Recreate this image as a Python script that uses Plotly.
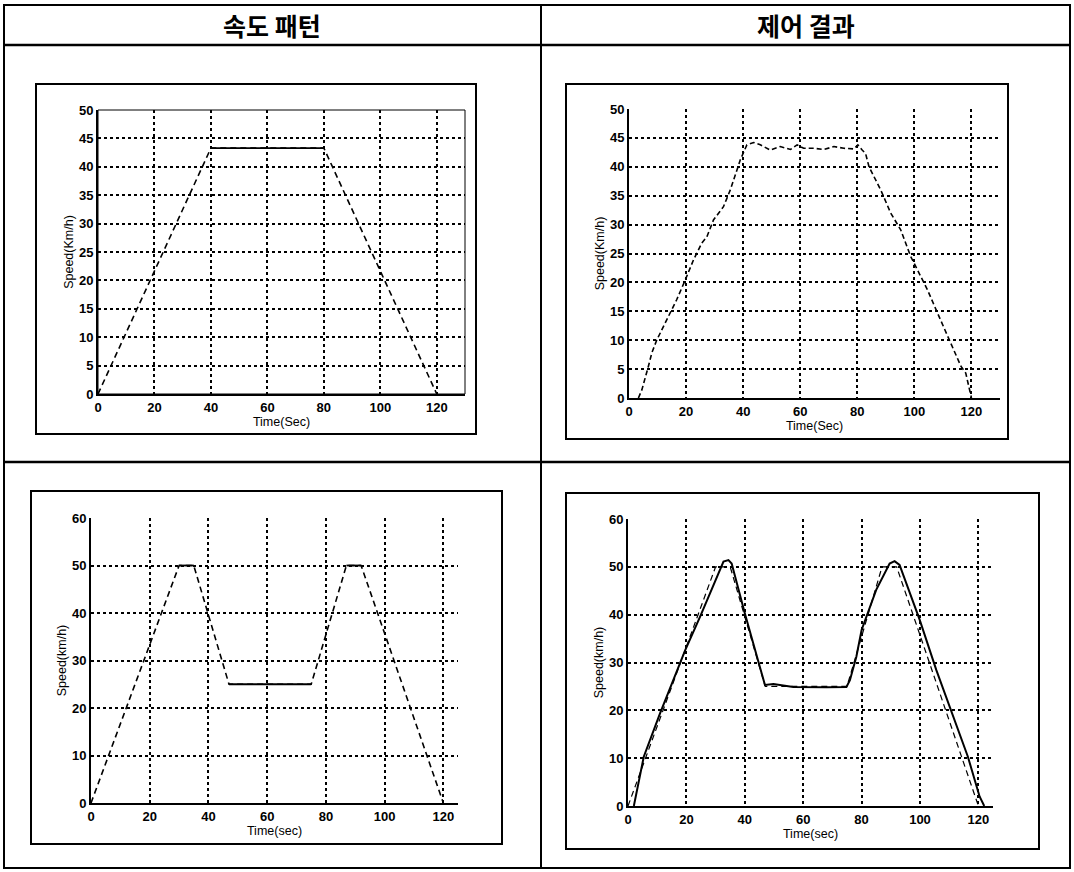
import plotly.graph_objects as go

W, H = 1074, 872

# ---------------- data ----------------
headers = ["속도 패턴", "제어 결과"]

x_ticks = [0, 20, 40, 60, 80, 100, 120]

# pattern 1 (trapezoid)
t_pat1 = [0, 40, 80, 120]
v_pat1 = [0, 43.3, 43.3, 0]

# control result 1
t_res1 = [3.3, 4.5, 6.8, 8.0, 9.7, 13.2, 16.7, 19.7, 22.6, 25.5, 27.3, 29.6, 33.1, 35.5,
          39.0, 41.3, 43.7, 46.0, 49.5, 53.0, 56.6, 58.9, 61.2, 64.8, 68.3, 71.8, 75.3,
          78.8, 80.2, 81.7, 82.9, 84.1, 88.2, 91.7, 95.2, 98.7, 102.2, 104.6, 108.1,
          111.6, 116.3, 118.0, 120.0]
v_res1 = [0.0, 1.4, 5.5, 7.8, 10.0, 13.5, 17.0, 20.4, 23.9, 26.8, 27.9, 30.8, 33.1, 36.0,
          41.2, 43.8, 44.2, 43.8, 42.9, 43.5, 43.0, 43.8, 43.2, 43.2, 43.0, 43.5, 43.2,
          43.1, 43.8, 42.9, 42.3, 40.0, 36.0, 32.0, 29.1, 24.5, 21.0, 18.7, 14.7,
          10.7, 5.5, 4.3, 0.0]

# pattern 2 (double peak)
t_pat2 = [0, 30, 35, 47, 75, 87, 92, 120]
v_pat2 = [0, 50, 50, 25, 25, 50, 50, 0]

# control result 2
t_res2 = [2.0, 5.4, 11.0, 19.6, 24.7, 30.4, 32.7, 34.4, 35.5, 40.0, 45.2, 46.9, 49.8,
          56.6, 68.0, 74.8, 76.0, 78.2, 80.0, 85.0, 89.6, 91.3, 93.0, 96.5, 99.9,
          105.6, 110.1, 116.4, 120.4, 122.0]
v_res2 = [0.0, 10.3, 19.4, 32.6, 39.6, 48.0, 51.1, 51.4, 50.7, 40.3, 29.1, 25.3, 25.5,
          24.9, 24.8, 24.9, 26.3, 31.2, 36.8, 45.2, 50.7, 51.2, 50.4, 44.5, 38.9,
          28.4, 20.8, 10.3, 2.0, 0.0]

# ---------------- figure ----------------
fig = go.Figure()

def px_dom_x(a, b):
    return [a / W, b / W]

def px_dom_y(top, bottom):
    return [1 - bottom / H, 1 - top / H]

DASH = "6px,4px"

def pattern_traces(t, v, xa, ya):
    # ramps dashed, flat segments solid
    fig.add_trace(go.Scatter(x=t, y=v, mode="lines", xaxis=xa, yaxis=ya,
                             line=dict(color="black", width=1.6, dash=DASH),
                             showlegend=False, hoverinfo="skip"))
    for i in range(len(t) - 1):
        if v[i] == v[i + 1]:
            fig.add_trace(go.Scatter(x=t[i:i + 2], y=v[i:i + 2], mode="lines",
                                     xaxis=xa, yaxis=ya,
                                     line=dict(color="black", width=1.8),
                                     showlegend=False, hoverinfo="skip"))

# TL
pattern_traces(t_pat1, v_pat1, "x", "y")
# TR
fig.add_trace(go.Scatter(x=t_res1, y=v_res1, mode="lines", xaxis="x2", yaxis="y2",
                         line=dict(color="black", width=1.6, dash="5px,3px"),
                         showlegend=False, hoverinfo="skip"))
# BL
pattern_traces(t_pat2, v_pat2, "x3", "y3")
# BR
fig.add_trace(go.Scatter(x=t_pat2, y=v_pat2, mode="lines", xaxis="x4", yaxis="y4",
                         line=dict(color="black", width=1.2, dash=DASH),
                         showlegend=False, hoverinfo="skip"))
fig.add_trace(go.Scatter(x=t_res2, y=v_res2, mode="lines", xaxis="x4", yaxis="y4",
                         line=dict(color="black", width=2),
                         showlegend=False, hoverinfo="skip"))

FONT = "Liberation Sans, Arial, sans-serif"
tickfont = dict(family=FONT, size=13, color="black", weight="bold")
titlefont = dict(family=FONT, size=12.5, color="black")

def xaxis(dom, anchor, rng, title):
    return dict(domain=dom, anchor=anchor, range=rng, tickvals=x_ticks,
                showgrid=True, gridcolor="black", griddash="dot", gridwidth=1.6,
                showline=True, linecolor="black", linewidth=2, zeroline=False,
                ticks="", tickfont=tickfont, automargin=False,
                title=dict(text=title, font=titlefont, standoff=2))

def yaxis(dom, anchor, rng, dtick, title):
    return dict(domain=dom, anchor=anchor, range=rng, dtick=dtick, tick0=0,
                showgrid=True, gridcolor="black", griddash="dot", gridwidth=1.6,
                showline=True, linecolor="black", linewidth=2, zeroline=False,
                ticks="", tickfont=tickfont, automargin=False,
                title=dict(text=title, font=titlefont, standoff=3))

fig.update_layout(
    width=W, height=H, autosize=False,
    margin=dict(l=0, r=0, t=0, b=0, pad=0, autoexpand=False),
    paper_bgcolor="white", plot_bgcolor="white",
    showlegend=False,
    xaxis=xaxis(px_dom_x(98, 465), "y", [0, 130], "Time(Sec)"),
    yaxis=yaxis(px_dom_y(110, 394), "x", [0, 50], 5, "Speed(Km/h)"),
    xaxis2=xaxis(px_dom_x(629, 1000), "y2", [0, 130], "Time(Sec)"),
    yaxis2=yaxis(px_dom_y(109, 398), "x2", [0, 50], 5, "Speed(Km/h)"),
    xaxis3=xaxis(px_dom_x(91, 458), "y3", [0, 125], "Time(sec)"),
    yaxis3=yaxis(px_dom_y(518, 803), "x3", [0, 60], 10, "Speed(km/h)"),
    xaxis4=xaxis(px_dom_x(628, 993), "y4", [0, 125], "Time(sec)"),
    yaxis4=yaxis(px_dom_y(519, 806), "x4", [0, 60], 10, "Speed(km/h)"),
)

shapes = []
def rect_px(x0, y0, x1, y1, w=2):
    shapes.append(dict(type="rect", xref="paper", yref="paper",
                       x0=x0 / W, x1=x1 / W, y0=1 - y1 / H, y1=1 - y0 / H,
                       line=dict(color="black", width=w), layer="below"))

def line_px(x0, y0, x1, y1, w=2):
    shapes.append(dict(type="line", xref="paper", yref="paper",
                       x0=x0 / W, x1=x1 / W, y0=1 - y0 / H, y1=1 - y1 / H,
                       line=dict(color="black", width=w)))

# table
rect_px(4, 5, 1070, 868, 2)
line_px(541, 5, 541, 868, 2)
line_px(4, 45, 1070, 45, 2.5)
line_px(4, 462, 1070, 462, 2.5)
# panel frames
rect_px(36, 84, 476, 434, 2)
rect_px(566, 84, 1008, 439, 2)
rect_px(31, 491, 502, 844, 2)
rect_px(566, 493, 1039, 849, 2)
# thin box on top-left axes
shapes.append(dict(type="rect", xref="x domain", yref="y domain", x0=0, x1=1, y0=0, y1=1,
                   line=dict(color="black", width=1)))
fig.update_layout(shapes=shapes)

for cx, txt in zip([272, 806], headers):
    fig.add_annotation(x=cx / W, y=1 - 25 / H, xref="paper", yref="paper",
                       xanchor="center", yanchor="middle",
                       text=txt, showarrow=False,
                       font=dict(family="Noto Sans CJK KR", size=25, color="black",
                                 weight="bold"))

fig.write_html("out.html", config={"responsive": False, "displayModeBar": False},
               post_script="document.body.style.margin='0px';"
                           "document.body.style.overflow='hidden';")
